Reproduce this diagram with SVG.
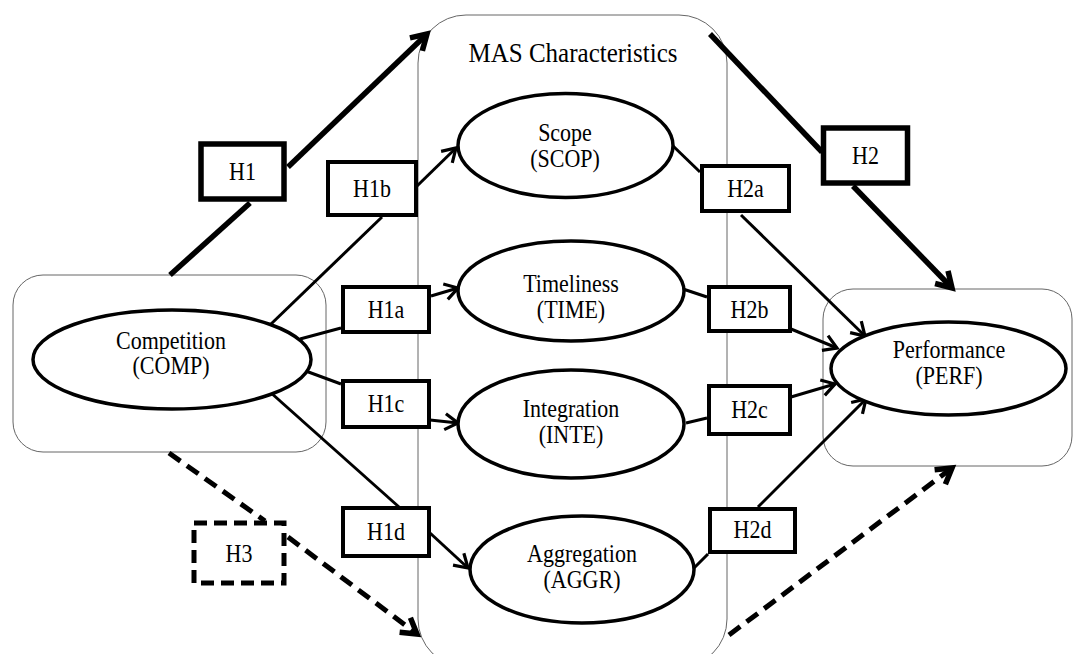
<svg xmlns="http://www.w3.org/2000/svg" width="1074" height="654" viewBox="0 0 1074 654">
<style>
.cont{fill:none;stroke:#666;stroke-width:1}
.ell{fill:#fff;stroke:#000;stroke-width:3.5}
.hb{fill:#fff;stroke:#000;stroke-width:4}
.hbk{fill:#fff;stroke:#000;stroke-width:5.5}
.hbd{fill:#fff;stroke:#000;stroke-width:5;stroke-dasharray:13 7}
.t{font-family:"Liberation Serif","Times New Roman",serif;font-size:22px;fill:#000;text-anchor:middle}
.title{font-size:25px}
.c{fill:none;stroke:#000;stroke-width:3}
.ck{fill:none;stroke:#000;stroke-width:5.5}
.cd{fill:none;stroke:#000;stroke-width:5;stroke-dasharray:14 8}
</style>
<defs>
<marker id="a" markerUnits="userSpaceOnUse" markerWidth="30" markerHeight="30" viewBox="-20 -15 30 30" refX="0" refY="0" orient="auto" overflow="visible">
<path d="M-13,-8 L0,0 L-13,8" fill="none" stroke="#000" stroke-width="3.2"/>
</marker>
<marker id="ab" markerUnits="userSpaceOnUse" markerWidth="30" markerHeight="30" viewBox="-20 -15 30 30" refX="0" refY="0" orient="auto" overflow="visible">
<path d="M-15,-9 L0,0 L-15,9" fill="none" stroke="#000" stroke-width="5.5"/>
</marker>
</defs>
<rect width="1074" height="654" fill="#fff"/>

<g id="mas-container">
<rect class="cont" x="418" y="15" width="309" height="652" rx="48"/>
<text class="t title" transform="translate(573,62) scale(1,1.05)">MAS Characteristics</text>
</g>
<g id="comp-container"><rect class="cont" x="13" y="275" width="313" height="177" rx="30"/></g>
<g id="perf-container"><rect class="cont" x="823" y="289" width="249" height="177" rx="30"/></g>

<g id="connectors">
<line class="ck" x1="170" y1="275" x2="250" y2="203"/>
<line class="ck" x1="288" y1="167" x2="427" y2="34" marker-end="url(#ab)"/>
<line class="c" x1="270" y1="325" x2="382" y2="217"/>
<line class="c" x1="417" y1="186" x2="456" y2="148" marker-end="url(#a)"/>
<line class="c" x1="300" y1="339" x2="341" y2="328"/>
<line class="c" x1="431" y1="296" x2="458" y2="288" marker-end="url(#a)"/>
<line class="c" x1="303" y1="370" x2="341" y2="384"/>
<line class="c" x1="430" y1="420" x2="458" y2="423" marker-end="url(#a)"/>
<line class="c" x1="270" y1="392" x2="399" y2="507"/>
<line class="c" x1="430" y1="533" x2="468" y2="568" marker-end="url(#a)"/>
<line class="cd" x1="169" y1="453" x2="265" y2="521"/>
<line class="cd" x1="288" y1="537" x2="417" y2="634" marker-end="url(#ab)"/>
<line class="ck" x1="710" y1="34" x2="822" y2="152"/>
<line class="ck" x1="853" y1="186" x2="952" y2="288" marker-end="url(#ab)"/>
<line class="c" x1="672" y1="145" x2="700" y2="172"/>
<line class="c" x1="741" y1="215" x2="865" y2="336" marker-end="url(#a)"/>
<line class="c" x1="683" y1="289" x2="707" y2="297"/>
<line class="c" x1="791" y1="329" x2="837" y2="348" marker-end="url(#a)"/>
<line class="c" x1="686" y1="423" x2="707" y2="418"/>
<line class="c" x1="791" y1="397" x2="835" y2="384" marker-end="url(#a)"/>
<line class="c" x1="694" y1="568" x2="708" y2="554"/>
<line class="c" x1="758" y1="507" x2="866" y2="399" marker-end="url(#a)"/>
<line class="cd" x1="729" y1="635" x2="952" y2="468" marker-end="url(#ab)"/>
</g>

<g id="comp"><ellipse class="ell" cx="172" cy="359.5" rx="139" ry="49.5"/>
<text class="t" transform="translate(171,349) scale(1,1.12)">Competition</text><text class="t" transform="translate(171,374) scale(1,1.12)">(COMP)</text></g>
<g id="scop"><ellipse class="ell" cx="565.5" cy="145.5" rx="107.5" ry="52"/>
<text class="t" transform="translate(565,141) scale(1,1.12)">Scope</text><text class="t" transform="translate(565,167) scale(1,1.12)">(SCOP)</text></g>
<g id="time"><ellipse class="ell" cx="571" cy="291" rx="113" ry="50"/>
<text class="t" transform="translate(571,292) scale(1,1.12)">Timeliness</text><text class="t" transform="translate(571,318) scale(1,1.12)">(TIME)</text></g>
<g id="inte"><ellipse class="ell" cx="571" cy="424" rx="113" ry="54"/>
<text class="t" transform="translate(571,417) scale(1,1.12)">Integration</text><text class="t" transform="translate(571,443) scale(1,1.12)">(INTE)</text></g>
<g id="aggr"><ellipse class="ell" cx="582" cy="569.5" rx="112" ry="53.5"/>
<text class="t" transform="translate(582,562) scale(1,1.12)">Aggregation</text><text class="t" transform="translate(582,588) scale(1,1.12)">(AGGR)</text></g>
<g id="perf"><ellipse class="ell" cx="948.5" cy="368.5" rx="117.5" ry="46.5"/>
<text class="t" transform="translate(949,358) scale(1,1.12)">Performance</text><text class="t" transform="translate(949,384) scale(1,1.12)">(PERF)</text></g>

<g id="h1"><rect class="hbk" x="201" y="144" width="83" height="55"/><text class="t" transform="translate(242.5,180) scale(1,1.12)">H1</text></g>
<g id="h1b"><rect class="hb" x="328" y="162" width="88" height="53"/><text class="t" transform="translate(372,197) scale(1,1.12)">H1b</text></g>
<g id="h1a"><rect class="hb" x="343" y="287" width="86" height="45"/><text class="t" transform="translate(386,318) scale(1,1.12)">H1a</text></g>
<g id="h1c"><rect class="hb" x="343" y="381" width="86" height="46"/><text class="t" transform="translate(386,412) scale(1,1.12)">H1c</text></g>
<g id="h1d"><rect class="hb" x="343" y="508" width="86" height="48"/><text class="t" transform="translate(386,540) scale(1,1.12)">H1d</text></g>
<g id="h3"><rect class="hbd" x="194" y="523" width="90" height="60"/><text class="t" transform="translate(239,562) scale(1,1.12)">H3</text></g>
<g id="h2"><rect class="hbk" x="823.5" y="128" width="84" height="55"/><text class="t" transform="translate(865.5,164) scale(1,1.12)">H2</text></g>
<g id="h2a"><rect class="hb" x="702" y="166" width="87" height="45"/><text class="t" transform="translate(745.5,197) scale(1,1.12)">H2a</text></g>
<g id="h2b"><rect class="hb" x="709" y="287" width="81" height="44"/><text class="t" transform="translate(749.5,318) scale(1,1.12)">H2b</text></g>
<g id="h2c"><rect class="hb" x="709" y="386" width="81" height="48"/><text class="t" transform="translate(749.5,418) scale(1,1.12)">H2c</text></g>
<g id="h2d"><rect class="hb" x="710" y="509" width="85" height="43"/><text class="t" transform="translate(752.5,538) scale(1,1.12)">H2d</text></g>
</svg>
